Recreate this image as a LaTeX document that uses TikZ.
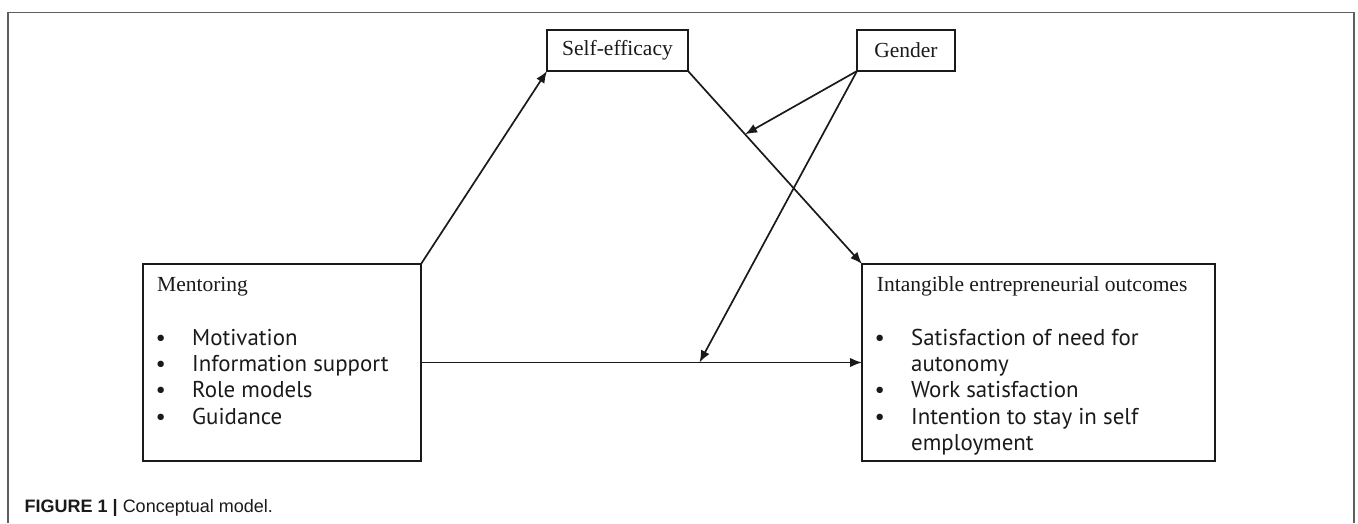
\documentclass[tikz,border=0pt]{standalone}
\usepackage{fontspec}
\setmainfont{Liberation Serif}
\newfontfamily\bulfont{PT Sans}
\newfontfamily\capfont{Liberation Sans}
\usetikzlibrary{calc,arrows.meta}
\definecolor{ink}{HTML}{1A1A1A}
\definecolor{framegray}{HTML}{5E5E5E}
\tikzset{
  box/.style={draw=ink, line width=1.7pt, inner sep=0pt, outer sep=0pt, anchor=north west},
  serif/.style={font=\fontsize{21.5}{24}\selectfont, text=ink, inner sep=0pt},
  bul/.style={font=\bulfont\fontsize{22.9}{26}\selectfont, text=ink, inner sep=0pt, anchor=base west},
  arr/.style={draw=ink, line width=1.7pt, -{Latex[length=12pt,width=9.5pt]}},
}
\begin{document}
\begin{tikzpicture}[x=1pt,y=-1pt]
\useasboundingbox (0,0) rectangle (1358,523);
% outer frame
\draw[framegray, line width=1.3pt] (8,523) -- (8,12.7) -- (1354,12.7) -- (1354,523);
% boxes
\node[box, minimum width=141pt, minimum height=41pt] (se) at (547,30) {};
\node[serif] (setext) at (se.center) {Self-efficacy};
\node[box, minimum width=98pt, minimum height=41pt] (g) at (857,30) {};
\node[serif] (gtext) at (g.center) {Gender};
\node[box, minimum width=278pt, minimum height=197pt] (m) at (143,264) {};
\node[box, minimum width=353pt, minimum height=197pt] (io) at (862,264) {};
% Mentoring text
\node[serif, anchor=base west] (mt) at (157,291) {Mentoring};
\foreach \i/\t [count=\k] in {345/Motivation, 371.3/Information support, 397.6/Role models, 424/Guidance}{
  \node[bul, anchor=base] (mb\k) at (160.7,\i) {•};
  \node[bul] (ml\k) at (192,\i) {\t};
}
% Outcomes text
\node[serif, anchor=base west] (iot) at (876.7,291) {Intangible entrepreneurial outcomes};
\node[bul, anchor=base] (ob1) at (879.7,345) {•};
\node[bul] (ol1) at (911,345) {Satisfaction of need for};
\node[bul] (ol2) at (911,371.3) {autonomy};
\node[bul, anchor=base] (ob2) at (879.7,397.6) {•};
\node[bul] (ol3) at (911,397.6) {Work satisfaction};
\node[bul, anchor=base] (ob3) at (879.7,424) {•};
\node[bul] (ol4) at (911,424) {Intention to stay in self};
\node[bul] (ol5) at (911,450.3) {employment};
% connectors
\coordinate (c1) at ($(se.south east)!0.328!(io.north west)$);
\coordinate (c2) at ($(m.east)!0.6315!(io.west)$);
\draw[arr] (m.north east) -- (se.south west);
\draw[arr] (se.south east) -- (io.north west);
\draw[arr] (m.east) -- (io.west);
\draw[arr] (g.south west) -- (c1);
\draw[arr] (g.south west) -- (c2);
% caption
\node[font=\capfont\fontsize{18}{20}\selectfont, text=ink, anchor=base west, inner sep=0pt] (cap) at (24.5,512)
  {\textbf{FIGURE 1} \textbf{|} Conceptual model.};
\end{tikzpicture}
\end{document}
